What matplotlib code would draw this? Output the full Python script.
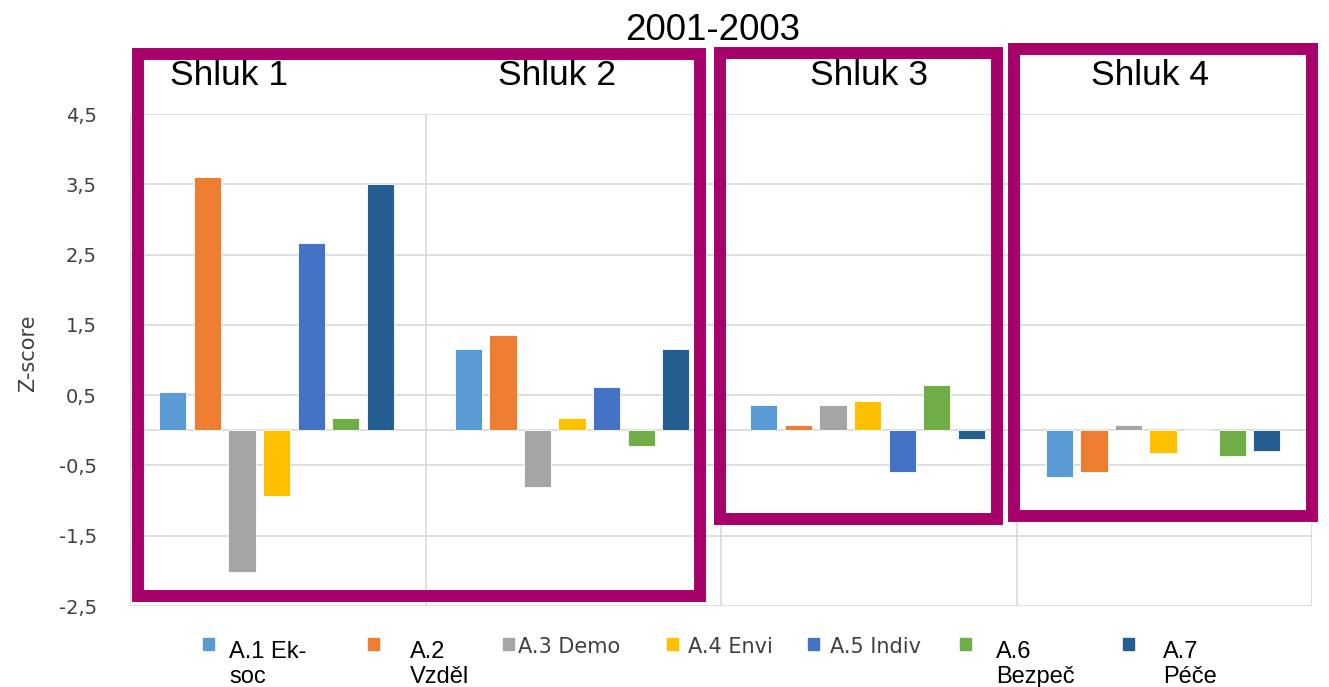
import matplotlib.pyplot as plt
import numpy as np
from matplotlib.patches import Rectangle

clusters = ["Shluk 1", "Shluk 2", "Shluk 3", "Shluk 4"]
series = ["A.1 Ek-\nsoc", "A.2\nVzděl", "A.3 Demo", "A.4 Envi", "A.5 Indiv", "A.6\nBezpeč", "A.7\nPéče"]
colors = ["#5b9bd5", "#ed7d31", "#a5a5a5", "#ffc000", "#4472c4", "#70ad47", "#255e91"]

a1 = [0.55, 1.15, 0.36, -0.67]
a2 = [3.61, 1.35, 0.07, -0.59]
a3 = [-2.01, -0.81, 0.36, 0.07]
a4 = [-0.93, 0.18, 0.41, -0.33]
a5 = [2.67, 0.61, -0.59, 0.0]
a6 = [0.18, -0.22, 0.64, -0.36]
a7 = [3.50, 1.15, -0.13, -0.30]
values = [a1, a2, a3, a4, a5, a6, a7]

yticks = [-2.5, -1.5, -0.5, 0.5, 1.5, 2.5, 3.5, 4.5]

W, H = 1329, 687
fig = plt.figure(figsize=(W / 100, H / 100), dpi=100)
ax = fig.add_axes([130 / W, 1 - 606 / H, (1312 - 130) / W, (606 - 114) / H])

x = np.arange(len(clusters))
step = 0.117
bw = 0.092
for i, (vals, c) in enumerate(zip(values, colors)):
    ax.bar(x + (i - 3) * step - 0.004, vals, bw, color=c, edgecolor="white", linewidth=0.6, zorder=3)

ax.set_xlim(-0.5, 3.5)
ax.set_ylim(-2.5, 4.5)
ax.set_yticks(yticks)
ax.set_yticklabels([f"{t:.1f}".replace(".", ",") for t in yticks], color="#404040", fontsize=14)
ax.set_xticks([])
ax.tick_params(axis="y", length=0, pad=24)
for t in yticks:
    ax.axhline(t, color="#d9d9d9", lw=1.2, zorder=1)
ax.axhline(0, color="#d9d9d9", lw=1.2, zorder=1)
for b in [-0.5, 0.5, 1.5, 2.5, 3.5]:
    ax.axvline(b, color="#d9d9d9", lw=1.2, zorder=1)
for s in ax.spines.values():
    s.set_visible(False)

fig.text(28 / W, 1 - 353 / H, "Z-score", rotation=90, ha="center", va="center",
         color="#404040", fontsize=15)

fig.text(713 / W, 1 - 40 / H, "2001-2003", ha="center", va="baseline",
         fontsize=26.5, family="Liberation Sans")
for name, cx in zip(clusters, [229, 557, 869, 1150]):
    fig.text(cx / W, 1 - 85 / H, name, ha="center", va="baseline",
             fontsize=25.5, family="Liberation Sans")

# purple frames around clusters
purple = "#a8006b"
for x0, y0, x1, y1 in [(138, 54, 700, 596), (720, 53, 997, 519), (1014, 49, 1312, 516)]:
    fig.patches.append(Rectangle((x0 / W, 1 - y1 / H), (x1 - x0) / W, (y1 - y0) / H,
                                 transform=fig.transFigure, fill=False,
                                 edgecolor=purple, lw=8.6, joinstyle="miter", zorder=10))

# legend
mk_x = [203, 368, 503, 667, 808, 960, 1123]
tx_x = [229, 410, 518, 688, 830, 996, 1163]
for lab, c, mx, tx in zip(series, colors, mk_x, tx_x):
    fig.patches.append(Rectangle((mx / W, 1 - 650 / H), 11 / W, 12 / H,
                                 transform=fig.transFigure, color=c))
    if "\n" in lab:
        fig.text(tx / W, 1 - 683 / H, lab, ha="left", va="baseline",
                 fontsize=17, family="Liberation Sans", linespacing=1.2)
    else:
        fig.text(tx / W, 1 - 653 / H, lab, ha="left", va="baseline",
                 fontsize=15, color="#404040")

fig.savefig("out.png", dpi=100)
